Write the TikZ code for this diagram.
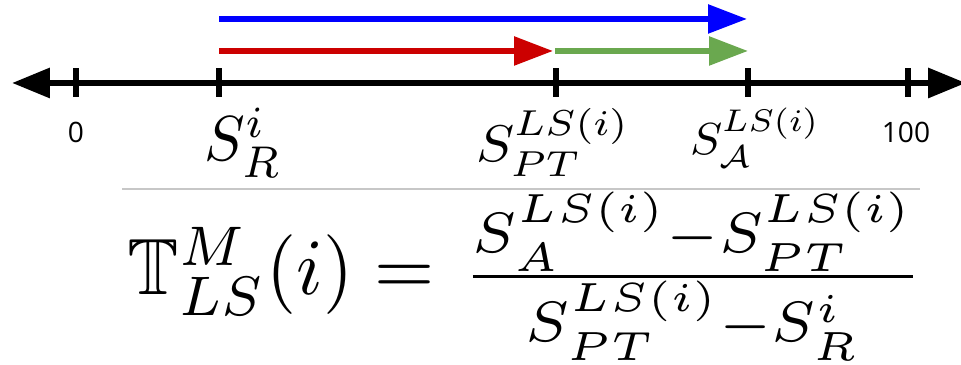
\documentclass[tikz,border=0pt]{standalone}
\usepackage{amsmath}
\usepackage{amssymb}
\usepackage{graphicx}
\usepackage{fontspec}
\newfontfamily\numfont{Open Sans}
\usetikzlibrary{calc, positioning}
\usetikzlibrary{arrows.meta}

\definecolor{arrblue}{RGB}{0,0,255}
\definecolor{arrred}{RGB}{204,0,0}
\definecolor{arrgreen}{RGB}{106,168,79}

% math squeezed into a given box
\newcommand\fitmath[3]{\resizebox*{#1}{#2}{$#3$}}

\begin{document}
\begin{tikzpicture}[
  axisline/.style={line width=1.8pt,
    {Triangle[length=3.8mm,width=2.9mm]}-{Triangle[length=3.8mm,width=2.9mm]}},
  tickmark/.style={line width=1.5pt},
  scorearrow/.style={line width=1.6pt, -{Triangle[length=3.9mm,width=2.8mm]}},
  numlabel/.style={font=\numfont\fontsize{8}{9}\selectfont, inner sep=0pt},
  mathlabel/.style={inner sep=0pt},
]
\useasboundingbox (0,0) rectangle (9.61,3.65);
\def\axy{2.82}
\def\tick{0.145}
\def\blueh{3.46}
\def\redh{3.14}

% number line
\coordinate (L) at (0.12,\axy);
\coordinate (Rt) at (9.66,\axy);
\coordinate (Zero) at (0.76,\axy);
\coordinate (SR) at (2.19,\axy);
\coordinate (SPT) at (5.56,\axy);
\coordinate (SA) at (7.48,\axy);
\coordinate (Hund) at (9.08,\axy);

\draw[axisline] (L) -- (Rt);
\foreach \p in {Zero,SR,SPT,SA,Hund}
  \draw[tickmark] ($(\p)+(0,\tick)$) -- ($(\p)-(0,\tick)$);

% arrows
\coordinate (B0) at (2.19,\blueh);
\coordinate (B1) at (7.47,\blueh);
\coordinate (R0) at (2.19,\redh);
\coordinate (R1) at (5.53,\redh);
\coordinate (G0) at (5.55,\redh);
\coordinate (G1) at (7.48,\redh);

\draw[scorearrow, arrblue] (B0) -- (B1);
\draw[scorearrow, arrred] (R0) -- (R1);
\draw[scorearrow, arrgreen] (G0) -- (G1);

% labels
\node[numlabel] (lzero) at (0.76,2.33) {0};
\node[numlabel] (lhund) at (9.06,2.33) {100};
\node[mathlabel] (lsr) at (2.435,2.22) {\fitmath{0.77cm}{0.70cm}{S^{i}_{R}}};
\node[mathlabel] (lspt) at (5.53,2.225) {\fitmath{1.54cm}{0.69cm}{S^{LS(i)}_{PT}}};
\node[mathlabel] (lsa) at (7.55,2.275) {\fitmath{1.30cm}{0.60cm}{S^{LS(i)}_{\mathcal{A}}}};

% formula
\draw[black!22, line width=0.5pt] (1.22,1.76) -- (9.20,1.76);
\node[inner sep=0pt] (lhs) at (2.815,0.935)
  {\fitmath{3.07cm}{0.89cm}{\mathbb{T}^{M}_{LS}(i) =}};
\node[inner sep=0pt] (rhs) at (6.93,0.885)
  {\fitmath{4.40cm}{1.69cm}{\nulldelimiterspace=0pt
   \tfrac{S^{LS(i)}_{A} - S^{LS(i)}_{PT}}{S^{LS(i)}_{PT} - S^{i}_{R}}}};

\end{tikzpicture}
\end{document}
